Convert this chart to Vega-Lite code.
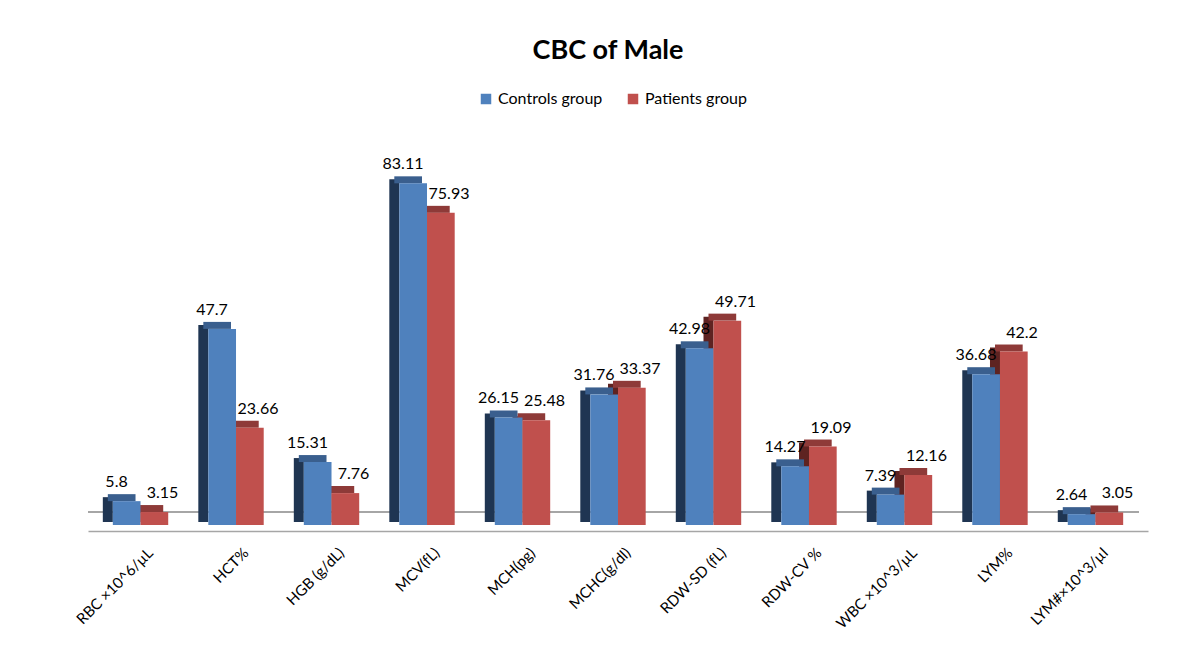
{
  "$schema": "https://vega.github.io/schema/vega-lite/v6.json",
  "autosize": "none",
  "width": 1060,
  "height": 370,
  "padding": {"left": 88, "top": 155, "right": 51, "bottom": 131},
  "background": "white",
  "title": {"text": "CBC of Male", "fontSize": 27, "font": "Lato", "fontWeight": "bold", "color": "#000000", "anchor": "middle", "offset": 26, "dx": -10},
  "data": {"values": [
    {"cat": "RBC ×10^6/µL", "group": "Controls group", "value": 5.8},
    {"cat": "RBC ×10^6/µL", "group": "Patients group", "value": 3.15},
    {"cat": "HCT%", "group": "Controls group", "value": 47.7},
    {"cat": "HCT%", "group": "Patients group", "value": 23.66},
    {"cat": "HGB (g/dL)", "group": "Controls group", "value": 15.31},
    {"cat": "HGB (g/dL)", "group": "Patients group", "value": 7.76},
    {"cat": "MCV(fL)", "group": "Controls group", "value": 83.11},
    {"cat": "MCV(fL)", "group": "Patients group", "value": 75.93},
    {"cat": "MCH(pg)", "group": "Controls group", "value": 26.15},
    {"cat": "MCH(pg)", "group": "Patients group", "value": 25.48},
    {"cat": "MCHC(g/dl)", "group": "Controls group", "value": 31.76},
    {"cat": "MCHC(g/dl)", "group": "Patients group", "value": 33.37},
    {"cat": "RDW-SD (fL)", "group": "Controls group", "value": 42.98},
    {"cat": "RDW-SD (fL)", "group": "Patients group", "value": 49.71},
    {"cat": "RDW-CV %", "group": "Controls group", "value": 14.27},
    {"cat": "RDW-CV %", "group": "Patients group", "value": 19.09},
    {"cat": "WBC ×10^3/µL", "group": "Controls group", "value": 7.39},
    {"cat": "WBC ×10^3/µL", "group": "Patients group", "value": 12.16},
    {"cat": "LYM%", "group": "Controls group", "value": 36.68},
    {"cat": "LYM%", "group": "Patients group", "value": 42.2},
    {"cat": "LYM#×10^3/µl", "group": "Controls group", "value": 2.64},
    {"cat": "LYM#×10^3/µl", "group": "Patients group", "value": 3.05}
  ]},
  "encoding": {
    "y": {"field": "value", "type": "quantitative", "scale": {"domain": [0, 90]}, "axis": null}
  },
  "layer": [
    {"mark": {"type": "rule", "yOffset": -13, "xOffset": -9, "x2Offset": -18, "color": "#A6A6A6", "strokeWidth": 1.5},
     "encoding": {"y": {"datum": 0}}},
    {"transform": [{"filter": "datum.group === 'Patients group'"}],
     "mark": {"type": "bar", "width": 10, "xOffset": -5, "yOffset": -4, "y2Offset": -3, "color": "#5E2321"},
     "encoding": {"x": {"field": "cat", "type": "nominal", "sort": null}, "y2": {"datum": 0}}},
    {"transform": [{"filter": "datum.group === 'Patients group'"}],
     "mark": {"type": "bar", "width": 27.7, "xOffset": 8.85, "yOffset": -7, "color": "#8E3A38"},
     "encoding": {"x": {"field": "cat", "type": "nominal", "sort": null}, "y2": {"field": "value"}}},
    {"transform": [{"filter": "datum.group === 'Controls group'"}],
     "mark": {"type": "bar", "width": 10, "xOffset": -32.7, "yOffset": -4, "y2Offset": -3, "color": "#1F3552"},
     "encoding": {"x": {"field": "cat", "type": "nominal", "sort": null}, "y2": {"datum": 0}}},
    {"transform": [{"filter": "datum.group === 'Controls group'"}],
     "mark": {"type": "bar", "width": 27.7, "xOffset": -18.85, "yOffset": -7, "color": "#3A5F8E"},
     "encoding": {"x": {"field": "cat", "type": "nominal", "sort": null}, "y2": {"field": "value"}}},
    {"mark": {"type": "bar"},
     "encoding": {
       "x": {"field": "cat", "type": "nominal", "sort": null, "title": null,
         "scale": {"paddingInner": 0.42, "paddingOuter": 0.26},
         "axis": {"labelAngle": -45, "labelAlign": "right", "labelBaseline": "middle", "labelFontSize": 15, "labelFont": "Lato", "labelColor": "#000000", "labelPadding": 19, "labelOffset": 10, "offset": 6, "ticks": false, "domainColor": "#A6A6A6", "domainWidth": 1.5}},
       "xOffset": {"field": "group", "type": "nominal", "sort": ["Controls group", "Patients group"], "scale": {"domain": ["Controls group", "Patients group"]}},
       "color": {"field": "group", "type": "nominal",
         "scale": {"domain": ["Controls group", "Patients group"], "range": ["#4F81BD", "#C0504D"]},
         "legend": {"title": null, "orient": "none", "legendX": 390, "legendY": -64, "direction": "horizontal", "symbolType": "square", "symbolSize": 110, "labelFontSize": 16, "labelFont": "Lato", "labelColor": "#000000", "columnPadding": 22, "symbolOpacity": 1, "symbolStrokeWidth": 0}},
       "order": {"field": "group", "sort": "descending"}
     }},
    {"transform": [{"filter": "datum.group === 'Controls group'"}],
     "mark": {"type": "text", "dy": -19, "dx": -24, "fontSize": 16, "font": "Lato", "color": "#000000"},
     "encoding": {"x": {"field": "cat", "type": "nominal", "sort": null}, "text": {"field": "value", "type": "quantitative"}}},
    {"transform": [{"filter": "datum.group === 'Patients group'"}],
     "mark": {"type": "text", "dy": -19, "dx": 22, "fontSize": 16, "font": "Lato", "color": "#000000"},
     "encoding": {"x": {"field": "cat", "type": "nominal", "sort": null}, "text": {"field": "value", "type": "quantitative"}}}
  ],
  "config": {"view": {"stroke": null}}
}
